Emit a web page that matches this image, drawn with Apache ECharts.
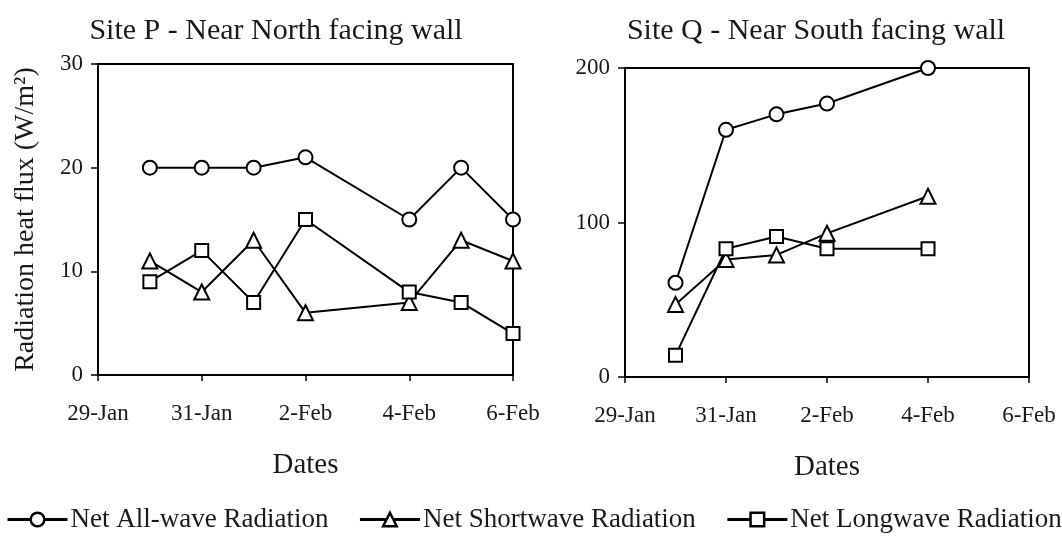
<!DOCTYPE html>
<html>
<head>
<meta charset="utf-8">
<style>
  html, body { margin: 0; padding: 0; background: #fff; }
  #chart { width: 1062px; height: 537px; }
</style>
<script src="https://cdn.jsdelivr.net/npm/echarts@6/dist/echarts.min.js"></script>
</head>
<body>
<div id="chart"></div>
<script>
// Day axis: each label is one calendar day, positioned by its index
const dayLabels = ['29-Jan', '30-Jan', '31-Jan', '1-Feb', '2-Feb', '3-Feb', '4-Feb', '5-Feb', '6-Feb'];

// Site P - near north facing wall
const datesP = ['30-Jan', '31-Jan', '1-Feb', '2-Feb', '4-Feb', '5-Feb', '6-Feb'];
const allWaveP = [20, 20, 20, 21, 15, 20, 15];
const shortWaveP = [11, 8, 13, 6, 7, 13, 11];
const longWaveP = [9, 12, 7, 15, 8, 7, 4];

// Site Q - near south facing wall
const datesQ = ['30-Jan', '31-Jan', '1-Feb', '2-Feb', '4-Feb'];
const allWaveQ = [61, 160, 170, 177, 200];
const shortWaveQ = [47, 76, 79, 93, 117];
const longWaveQ = [14, 83, 91, 83, 83];

const seriesNames = ['Net All-wave Radiation', 'Net Shortwave Radiation', 'Net Longwave Radiation'];
const symbols = ['circle', 'triangle', 'rect'];
const symbolSizes = [14, 15, 13];

const FONT = "'Liberation Serif', 'Times New Roman', serif";
const INK = '#1a1a1a';

function pairs(dates, values) {
  return dates.map((d, i) => [dayLabels.indexOf(d), values[i]]);
}

function makeSeries(idx, gridIndex, dates, values) {
  return {
    name: seriesNames[idx],
    type: 'line',
    xAxisIndex: gridIndex,
    yAxisIndex: gridIndex,
    data: pairs(dates, values),
    symbol: symbols[idx],
    symbolSize: symbolSizes[idx],
    clip: false,
    lineStyle: { color: '#000', width: 2 },
    itemStyle: { color: '#fff', borderColor: '#000', borderWidth: 2 },
    emphasis: { disabled: true },
    animation: false
  };
}

function makeXAxis(gridIndex) {
  return {
    type: 'value',
    gridIndex: gridIndex,
    min: 0,
    max: dayLabels.length - 1,
    interval: 2,
    name: 'Dates',
    nameLocation: 'middle',
    nameGap: 76,
    nameTextStyle: { fontFamily: FONT, fontSize: 29, color: INK },
    axisLine: { lineStyle: { color: '#000', width: 2 } },
    axisTick: { show: true, length: 6, lineStyle: { color: '#000', width: 1.5 } },
    axisLabel: {
      fontFamily: FONT, fontSize: 23, color: INK, margin: 27,
      formatter: v => dayLabels[v]
    },
    splitLine: { show: false }
  };
}

function makeYAxis(gridIndex, max, interval, name) {
  return {
    type: 'value',
    gridIndex: gridIndex,
    min: 0,
    max: max,
    interval: interval,
    name: name,
    nameLocation: 'middle',
    nameRotate: 90,
    nameGap: 58,
    nameTextStyle: { fontFamily: FONT, fontSize: 28, color: INK },
    axisLine: { show: true, lineStyle: { color: '#000', width: 2 } },
    axisTick: { show: true, length: 7, lineStyle: { color: '#000', width: 1.5 } },
    axisLabel: { fontFamily: FONT, fontSize: 23, color: INK, margin: 15 },
    splitLine: { show: false }
  };
}

const chart = echarts.init(document.getElementById('chart'), null, { renderer: 'canvas' });

chart.setOption({
  animation: false,
  backgroundColor: '#fff',
  title: [
    {
      text: 'Site P - Near North facing wall',
      left: 271, top: 11, textAlign: 'center',
      textStyle: { fontFamily: FONT, fontSize: 30, fontWeight: 'normal', color: INK }
    },
    {
      text: 'Site Q - Near South facing wall',
      left: 811, top: 11, textAlign: 'center',
      textStyle: { fontFamily: FONT, fontSize: 30, fontWeight: 'normal', color: INK }
    }
  ],
  legend: {
    data: seriesNames,
    left: 6,
    top: 506,
    padding: 0,
    itemWidth: 60,
    itemHeight: 17,
    itemGap: 30,
    lineStyle: { width: 3 },
    itemStyle: { borderWidth: 2.5 },
    textStyle: { fontFamily: FONT, fontSize: 27, color: INK, padding: [0, 0, 0, -2] },
    selectedMode: false
  },
  grid: [
    { left: 98, right: 549, top: 64, bottom: 162, show: true, borderColor: '#000', borderWidth: 2, backgroundColor: 'transparent' },
    { left: 625, right: 33, top: 68, bottom: 160, show: true, borderColor: '#000', borderWidth: 2, backgroundColor: 'transparent' }
  ],
  xAxis: [makeXAxis(0), makeXAxis(1)],
  yAxis: [
    makeYAxis(0, 30, 10, 'Radiation heat flux (W/m\u00B2)'),
    makeYAxis(1, 200, 100, '')
  ],
  series: [
    makeSeries(0, 0, datesP, allWaveP),
    makeSeries(1, 0, datesP, shortWaveP),
    makeSeries(2, 0, datesP, longWaveP),
    makeSeries(0, 1, datesQ, allWaveQ),
    makeSeries(1, 1, datesQ, shortWaveQ),
    makeSeries(2, 1, datesQ, longWaveQ)
  ]
});
</script>
</body>
</html>
